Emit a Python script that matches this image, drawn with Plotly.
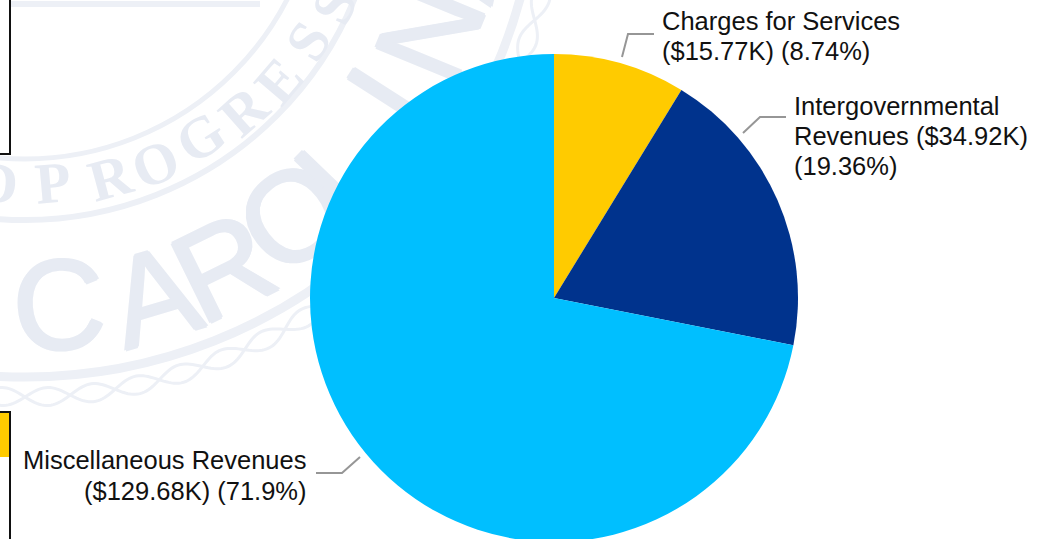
import math
import plotly.graph_objects as go

# ---- data ----
categories = ["Charges for Services", "Intergovernmental Revenues", "Miscellaneous Revenues"]
values = [15.77, 34.92, 129.68]
value_labels = ["$15.77K", "$34.92K", "$129.68K"]
percent_labels = ["8.74%", "19.36%", "71.9%"]
slice_colors = ["#FFCB00", "#00338D", "#00BFFF"]

W, H = 1056, 600
def px(x): return x / W
def py(y): return 1 - y / H

# ---- watermark seal ----
WM = "#E7EBF3"
WM2 = "#EDF0F6"
CX, CY = 25, -136
ring_radii = [295, 356, 513]
ring_widths = [5, 6, 9]
serif_word = list("DPROGRESS")
serif_angles = [-5, 5, 15.2, 23.5, 32.7, 41.5, 49.5, 58, 65.4]
serif_radii = [314, 314, 319, 321, 319, 324, 328, 328, 334]
sans_word = list("CAROLINA")
sans_angles = [4.4, 16.6, 26.2, 37.3, 46, 57.3, 67.6, 78]
sans_radii = [430, 438, 437, 430, 431, 419, 426, 429]

shapes = []
for r, w in zip(ring_radii, ring_widths):
    shapes.append(dict(type="circle", xref="paper", yref="paper", layer="below",
                       x0=px(CX - r), x1=px(CX + r), y0=py(CY + r), y1=py(CY - r),
                       line=dict(color=WM2, width=w), fillcolor="rgba(0,0,0,0)"))

# twisted rope round the seal: two interlaced strands
for sign in (1, -1):
    pts = []
    for i in range(0, 481):
        a = math.radians(-8 + i * 0.25)
        rad = 533 + sign * 9 * math.sin(a * 37)
        pts.append((CX + rad * math.sin(a), CY + rad * math.cos(a)))
    path = "M " + " L ".join(f"{px(x):.5f} {py(y):.5f}" for x, y in pts)
    shapes.append(dict(type="path", xref="paper", yref="paper", layer="below", path=path,
                       line=dict(color=WM2, width=3)))

shapes.append(dict(type="line", xref="paper", yref="paper", layer="below",
                   x0=px(0), x1=px(260), y0=py(4), y1=py(4),
                   line=dict(color=WM2, width=6)))

def letter(ch, a, rad, font):
    t = math.radians(a)
    x = CX + rad * math.sin(t)
    y = CY + rad * math.cos(t)
    return dict(type="rect", xref="paper", yref="paper", layer="below",
                x0=px(x - 40), x1=px(x + 40), y0=py(y + 40), y1=py(y - 40),
                line=dict(width=0), fillcolor="rgba(0,0,0,0)",
                label=dict(text=ch, textangle=-a, textposition="middle center", font=font))

serif_font = dict(family="Liberation Serif", size=58, color=WM, weight="bold")
sans_font = dict(family="Liberation Sans", size=128, color=WM,
                 shadow=f"1.5px 0 0 {WM}, -1.5px 0 0 {WM}, 0 1.5px 0 {WM}, 0 -1.5px 0 {WM}")
for ch, a, rad in zip(serif_word, serif_angles, serif_radii):
    shapes.append(letter(ch, a, rad, serif_font))
for ch, a, rad in zip(sans_word, sans_angles, sans_radii):
    shapes.append(letter(ch, a, rad, sans_font))

# ---- frames at the left edge ----
shapes.append(dict(type="rect", xref="paper", yref="paper", layer="below",
                   x0=px(-5), x1=px(10), y0=py(154), y1=py(-5),
                   line=dict(color="#111111", width=2), fillcolor="#FFFFFF"))
shapes.append(dict(type="rect", xref="paper", yref="paper", layer="below",
                   x0=px(-5), x1=px(10), y0=py(620), y1=py(412),
                   line=dict(color="#111111", width=2), fillcolor="#FFFFFF"))
shapes.append(dict(type="rect", xref="paper", yref="paper", layer="below",
                   x0=px(-5), x1=px(9), y0=py(457), y1=py(413),
                   line=dict(width=0), fillcolor="#FFCB00"))

# ---- leader lines ----
leaders = [
    [(622, 57), (628, 34), (654, 34)],
    [(743, 133), (760, 117), (786, 117)],
    [(360, 457), (342, 473), (316, 473)],
]
for pts in leaders:
    path = "M " + " L ".join(f"{px(x)} {py(y)}" for x, y in pts)
    shapes.append(dict(type="path", xref="paper", yref="paper", path=path,
                       line=dict(color="#969696", width=2)))

# ---- labels ----
label_lines = [
    [categories[0], f"({value_labels[0]}) ({percent_labels[0]})"],
    ["Intergovernmental", f"Revenues ({value_labels[1]})", f"({percent_labels[1]})"],
    [categories[2], f"({value_labels[2]}) ({percent_labels[2]})"],
]
anchors = [("left", 660, [21, 51]), ("left", 792, [106, 136, 166]), ("right", 309, [460, 491])]
annotations = []
for lines, (side, x, ys) in zip(label_lines, anchors):
    for line, y in zip(lines, ys):
        annotations.append(dict(text=line, xref="paper", yref="paper", x=px(x), y=py(y),
                                xanchor=side, yanchor="middle", showarrow=False,
                                font=dict(family="Liberation Sans", size=25.5, color="#111111")))

fig = go.Figure(go.Pie(
    labels=categories, values=values, sort=False, direction="clockwise", rotation=0,
    marker=dict(colors=slice_colors, line=dict(width=0)),
    textinfo="none", hoverinfo="label+value+percent",
    domain=dict(x=[px(310), px(798)], y=[py(542), py(54)]),
))
fig.update_layout(width=W, height=H, margin=dict(l=0, r=0, t=0, b=0, autoexpand=False),
                  paper_bgcolor="#FFFFFF", plot_bgcolor="#FFFFFF", showlegend=False,
                  shapes=shapes, annotations=annotations)
fig.write_html("out.html", config=dict(displayModeBar=False),
               post_script="document.body.style.margin='0';document.documentElement.style.overflow='hidden';document.body.style.overflow='hidden';")
